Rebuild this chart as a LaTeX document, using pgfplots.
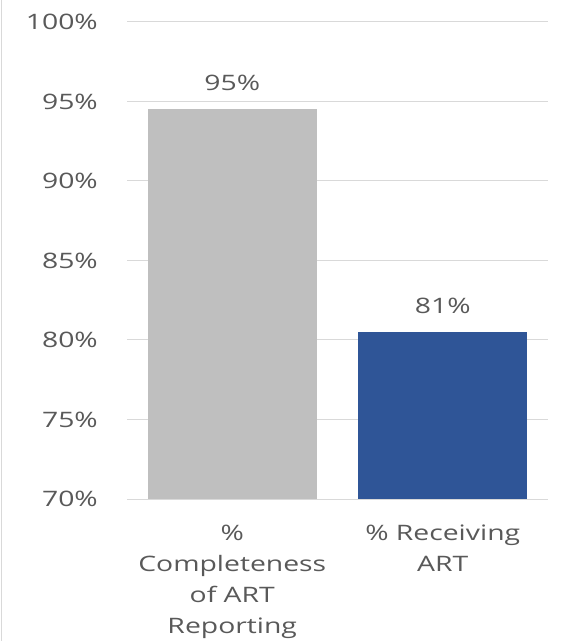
\documentclass[border=0pt]{standalone}
\usepackage{fontspec}
\setmainfont[FakeStretch=1.33]{Open Sans}
\usepackage{pgfplots}
\pgfplotsset{compat=1.18}
\usepackage{pgfplotstable}
\definecolor{txt}{HTML}{595959}
\definecolor{gridc}{HTML}{D9D9D9}
\definecolor{barA}{HTML}{BFBFBF}
\definecolor{barB}{HTML}{2F5597}

\pgfplotstableread{
x val lbl
0 94.5 95\%
}\artA
\pgfplotstableread{
x val lbl
1 80.5 81\%
}\artB

\begin{document}
\begin{tikzpicture}
\useasboundingbox (0,0) rectangle (562bp,641bp);
\draw[gridc, line width=0.8bp] (1.5bp,0) -- (1.5bp,641bp);
\begin{axis}[
    at={(127bp,142bp)}, anchor=south west,
    scale only axis, width=421bp, height=477bp,
    font=\fontsize{21.3bp}{31bp}\selectfont,
    ybar, bar width=169bp, bar shift=0pt,
    xmin=-0.5, xmax=1.5, ymin=70, ymax=100,
    ytick={70,75,...,100},
    yticklabels={70\%,75\%,80\%,85\%,90\%,95\%,100\%},
    xtick={0,1},
    xticklabels={{\%\\Completeness\\of ART\\Reporting},{\% Receiving\\ART}},
    axis line style={draw=none},
    major tick length=0pt,
    ymajorgrids, major grid style={gridc, line width=1bp},
    yticklabel style={text=txt, inner sep=0pt, anchor=east, xshift=-29bp},
    xticklabel style={text=txt, inner sep=0pt, anchor=north, align=center, yshift=-26bp},
    nodes near coords,
    point meta=explicit symbolic,
    nodes near coords style={text=txt, inner sep=0pt, anchor=base, yshift=18.5bp},
    /pgf/number format/assume math mode=true,
]
\addplot[fill=barA, draw=none] table[x=x, y=val, meta=lbl] {\artA};
\addplot[fill=barB, draw=none] table[x=x, y=val, meta=lbl] {\artB};
\end{axis}
\end{tikzpicture}
\end{document}
